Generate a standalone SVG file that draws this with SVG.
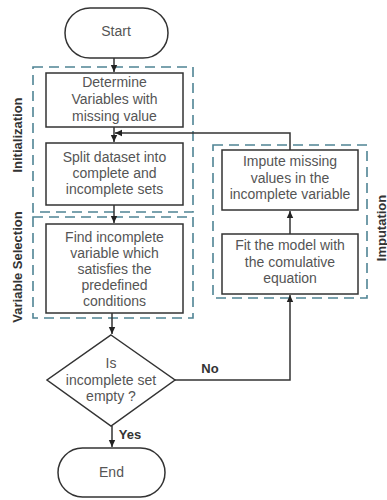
<svg xmlns="http://www.w3.org/2000/svg" width="387" height="500" viewBox="0 0 387 500">
<style>
.n{fill:#fff;stroke:#333;stroke-width:1.5}
.g{fill:none;stroke:#4f8494;stroke-width:1.6;stroke-dasharray:10 6}
.t{font-family:"Liberation Sans",Arial,sans-serif;font-size:14px;fill:#555;text-anchor:middle}
.b{font-family:"Liberation Sans",Arial,sans-serif;font-size:13px;font-weight:bold;fill:#333;text-anchor:middle}
.c{fill:none;stroke:#333;stroke-width:1.5}
</style>
<defs>
<marker id="a" markerWidth="8" markerHeight="8" refX="7" refY="4" orient="auto" markerUnits="userSpaceOnUse">
<path d="M0,0.8 L7,4 L0,7.2 Z" fill="#222"/>
</marker>
</defs>
<g id="groups">
<rect class="g" x="33" y="67" width="160" height="145"/>
<rect class="g" x="33" y="217" width="160" height="101"/>
<rect class="g" x="213" y="145" width="154" height="153"/>
<text class="b" transform="translate(22,135) rotate(-90)">Initialization</text>
<text class="b" transform="translate(22,267) rotate(-90)">Variable Selection</text>
<text class="b" transform="translate(385.5,228) rotate(-90)">Imputation</text>
</g>
<g id="connectors">
<path class="c" d="M114,58 V72" marker-end="url(#a)"/>
<path class="c" d="M114,127 V142" marker-end="url(#a)"/>
<path class="c" d="M114,205 V223" marker-end="url(#a)"/>
<path class="c" d="M112,313 V334" marker-end="url(#a)"/>
<path class="c" d="M112,426 V447" marker-end="url(#a)"/>
<path class="c" d="M175,380 H290 V295" marker-end="url(#a)"/>
<path class="c" d="M290,234 V211" marker-end="url(#a)"/>
<path class="c" d="M290,150 V133 H115" marker-end="url(#a)"/>
<text class="b" x="210" y="373">No</text>
<text class="b" x="130" y="439">Yes</text>
</g>
<g id="start">
<rect class="n" x="65" y="8" width="103" height="50" rx="25"/>
<text class="t" x="116" y="36">Start</text>
</g>
<g id="determine">
<rect class="n" x="46" y="73" width="137" height="54"/>
<text class="t" x="114.5" y="87">Determine</text>
<text class="t" x="114.5" y="104">Variables with</text>
<text class="t" x="114.5" y="121">missing value</text>
</g>
<g id="split">
<rect class="n" x="46" y="143" width="137" height="62"/>
<text class="t" x="114.5" y="162">Split dataset into</text>
<text class="t" x="114.5" y="178">complete and</text>
<text class="t" x="114.5" y="194">incomplete sets</text>
</g>
<g id="find">
<rect class="n" x="46" y="224" width="137" height="89"/>
<text class="t" x="114.5" y="242">Find incomplete</text>
<text class="t" x="114.5" y="258">variable which</text>
<text class="t" x="114.5" y="274">satisfies the</text>
<text class="t" x="114.5" y="290">predefined</text>
<text class="t" x="114.5" y="306">conditions</text>
</g>
<g id="decision">
<path class="n" d="M111,335 L175,380 L111,426 L47,380 Z"/>
<text class="t" x="111" y="368">Is</text>
<text class="t" x="111" y="385">incomplete set</text>
<text class="t" x="111" y="401">empty ?</text>
</g>
<g id="end">
<rect class="n" x="58" y="448" width="107" height="49" rx="24.5"/>
<text class="t" x="111.5" y="477">End</text>
</g>
<g id="impute">
<rect class="n" x="222" y="150" width="136" height="60"/>
<text class="t" x="290" y="166">Impute missing</text>
<text class="t" x="290" y="183">values in the</text>
<text class="t" x="290" y="199">incomplete variable</text>
</g>
<g id="fit">
<rect class="n" x="222" y="234" width="136" height="60"/>
<text class="t" x="290" y="250">Fit the model with</text>
<text class="t" x="290" y="267">the comulative</text>
<text class="t" x="290" y="283">equation</text>
</g>
</svg>
